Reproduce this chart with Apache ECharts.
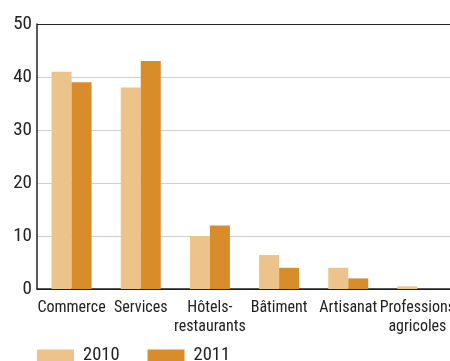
<!DOCTYPE html>
<html>
<head>
<meta charset="utf-8">
<script src="https://cdn.jsdelivr.net/npm/echarts@6/dist/echarts.min.js"></script>
<style>
  html, body { margin: 0; padding: 0; background: #fff; }
  #chart { width: 450px; height: 361px; }
</style>
</head>
<body>
<div id="chart"></div>
<script>
// Categories and yearly shares
const categories = ['Commerce', 'Services', 'Hôtels-\nrestaurants', 'Bâtiment', 'Artisanat', 'Professions\nagricoles'];
const values2010 = [41, 38, 10, 6.4, 4, 0.5];
const values2011 = [39, 43, 12, 4, 2, 0];
const yTicks = [0, 10, 20, 30, 40, 50];

const FONT = '"Roboto Condensed", "DejaVu Sans Condensed", sans-serif';

const chart = echarts.init(document.getElementById('chart'), null, { renderer: 'canvas' });

chart.setOption({
  animation: false,
  textStyle: { fontFamily: FONT },
  grid: { left: 37, top: 24, right: -2, bottom: 72, containLabel: false, outerBoundsMode: 'none' },
  legend: {
    left: 37,
    top: 346,
    padding: 0,
    itemWidth: 37,
    itemHeight: 12,
    itemGap: 28,
    icon: 'rect',
    textStyle: { fontFamily: FONT, fontSize: 18.5, color: '#222', padding: [1, 0, 0, 4] },
    data: ['2010', '2011']
  },
  xAxis: {
    type: 'category',
    data: categories,
    axisLine: { show: true, lineStyle: { color: '#222', width: 1.5 } },
    axisTick: { show: false },
    axisLabel: {
      interval: 0,
      margin: 9,
      fontFamily: FONT,
      fontSize: 16,
      lineHeight: 19,
      color: '#222'
    }
  },
  yAxis: {
    type: 'value',
    min: yTicks[0],
    max: yTicks[yTicks.length - 1],
    interval: 10,
    axisLine: { show: true, lineStyle: { color: '#222', width: 1.5 } },
    axisTick: { show: false },
    axisLabel: { fontFamily: FONT, fontSize: 19, color: '#222', margin: 5 },
    splitLine: {
      show: true,
      lineStyle: { color: ['#222', '#cfcfcf', '#cfcfcf', '#cfcfcf', '#cfcfcf', '#222'], width: 1 }
    }
  },
  series: [
    {
      name: '2010',
      type: 'bar',
      data: values2010,
      barWidth: 20,
      barGap: '0%',
      itemStyle: { color: '#ebc38b' }
    },
    {
      name: '2011',
      type: 'bar',
      data: values2011,
      barWidth: 20,
      itemStyle: { color: '#d88d2a' }
    }
  ]
});
</script>
</body>
</html>
